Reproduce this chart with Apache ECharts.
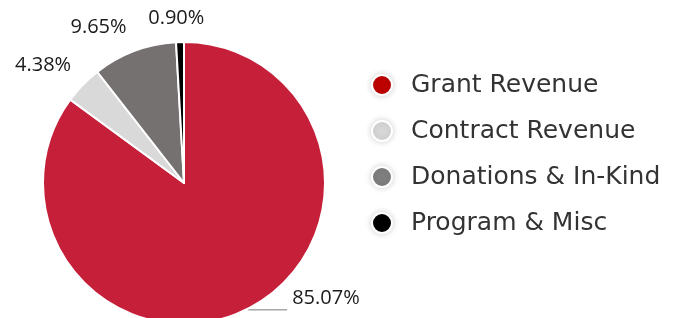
<!DOCTYPE html>
<html>
<head>
<meta charset="utf-8">
<script src="https://cdn.jsdelivr.net/npm/echarts@6/dist/echarts.min.js"></script>
<style>
  html, body { margin: 0; padding: 0; background: #fff; }
  #container { width: 679px; height: 318px; }
</style>
</head>
<body>
<div id="container"></div>
<script>
// revenue breakdown (percent)
var categories = ["Grant Revenue", "Contract Revenue", "Donations & In-Kind", "Program & Misc"];
var shares = [85.07, 4.38, 9.65, 0.90];
var sliceColors = ["#c51f3a", "#d9d9d9", "#767171", "#000000"];
var legendColors = ["#c00000", "#d9d9d9", "#808080", "#000000"];

// label line lengths per slice: [radial, horizontal]
var lineLens = [[1, 39], [26, 0], [25, 0], [24, 0]];

var chart = echarts.init(document.getElementById("container"));

var pieData = categories.map(function (name, i) {
  return {
    name: name,
    value: shares[i],
    itemStyle: { color: sliceColors[i] },
    labelLine: {
      show: i === 0,
      length: lineLens[i][0],
      length2: lineLens[i][1]
    }
  };
});

chart.setOption({
  animation: false,
  legend: {
    orient: "vertical",
    left: 366,
    top: 67,
    icon: "circle",
    itemWidth: 20,
    itemHeight: 20,
    itemGap: 20,
    selectedMode: false,
    itemStyle: {
      shadowBlur: 7,
      shadowColor: "rgba(0,0,0,0.18)"
    },
    textStyle: {
      fontFamily: "DejaVu Sans",
      fontSize: 25,
      color: "#333",
      lineHeight: 26,
      padding: [0, 0, 0, 14]
    },
    data: categories.map(function (name, i) {
      return { name: name, itemStyle: { color: legendColors[i] } };
    })
  },
  series: [
    {
      type: "pie",
      center: [184, 183],
      radius: 141,
      startAngle: 90,
      clockwise: true,
      avoidLabelOverlap: false,
      itemStyle: { borderColor: "#fff", borderWidth: 2 },
      label: {
        show: true,
        position: "outside",
        formatter: function (p) { return p.value.toFixed(2) + "%"; },
        fontFamily: "Open Sans",
        fontSize: 20,
        color: "#1a1a1a"
      },
      labelLine: {
        smooth: false,
        lineStyle: { color: "#a6a6a6", width: 1.5 }
      },
      labelLayout: function (params) {
        if (params.dataIndex === 0) return { dy: -11 };
        if (params.dataIndex === 3) return { dx: 30 };
        if (params.dataIndex === 1) return { dx: 12, dy: -1 };
        if (params.dataIndex === 2) return { dx: 6 };
        return {};
      },
      emphasis: { disabled: true },
      data: pieData
    }
  ]
});
</script>
</body>
</html>
